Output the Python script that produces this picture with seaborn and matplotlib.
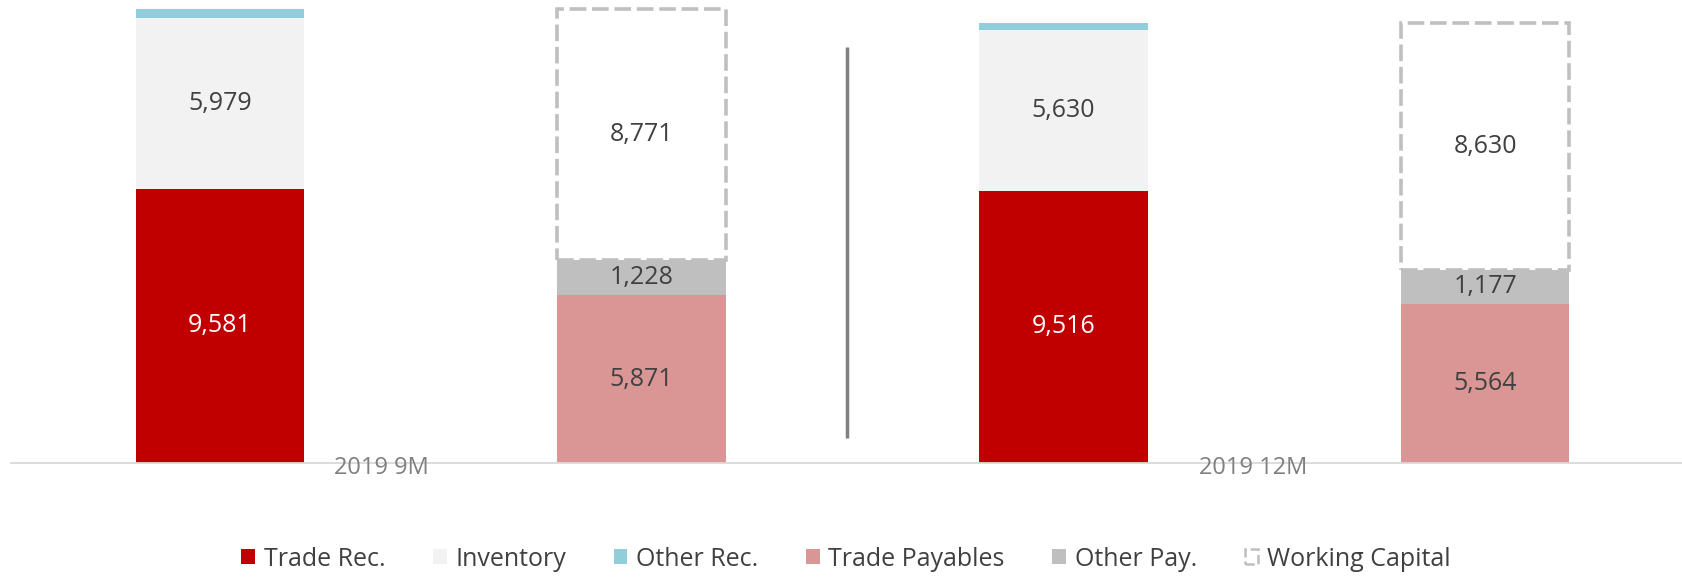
import matplotlib
matplotlib.use("Agg")
import matplotlib.pyplot as plt
from matplotlib.patches import Patch
import seaborn as sns
import pandas as pd

# ---- data ----
periods = ["2019 9M", "2019 12M"]
trade_rec = [9581, 9516]
inventory = [5979, 5630]
other_rec = [310, 225]
trade_pay = [5871, 5564]
other_pay = [1228, 1177]
working_capital = [8771, 8630]

legend_labels = ["Trade Rec.", "Inventory", "Other Rec.", "Trade Payables", "Other Pay.", "Working Capital"]
colors = {"Trade Rec.": "#c00000", "Inventory": "#f2f2f2", "Other Rec.": "#92cddc",
          "Trade Payables": "#d99694", "Other Pay.": "#bfbfbf", "Working Capital": "#bfbfbf"}

sns.set_theme(style="white")
plt.rcParams["font.family"] = ["Open Sans", "DejaVu Sans"]

rec_cats = [p + " rec" for p in periods]
pay_cats = [p + " pay" for p in periods]
order = [rec_cats[0], pay_cats[0], rec_cats[1], pay_cats[1]]

fig = plt.figure(figsize=(16.82, 5.78), dpi=100)
ax = fig.add_axes([11 / 1682, 115 / 578, 1 - 11 / 1682, 463 / 578])

W = 0.4
# receivables stacks (drawn back to front with cumulative heights)
rec_tot = [a + b + c for a, b, c in zip(trade_rec, inventory, other_rec)]
rec_mid = [a + b for a, b in zip(trade_rec, inventory)]
sns.barplot(x=rec_cats, y=rec_tot, order=order, color=colors["Other Rec."], width=W,
            linewidth=0, saturation=1, ax=ax)
sns.barplot(x=rec_cats, y=rec_mid, order=order, color=colors["Inventory"], width=W,
            linewidth=0, saturation=1, ax=ax)
sns.barplot(x=rec_cats, y=trade_rec, order=order, color=colors["Trade Rec."], width=W,
            linewidth=0, saturation=1, ax=ax)
# payables stacks
pay_tot = [a + b for a, b in zip(trade_pay, other_pay)]
sns.barplot(x=pay_cats, y=pay_tot, order=order, color=colors["Other Pay."], width=W,
            linewidth=0, saturation=1, ax=ax)
sns.barplot(x=pay_cats, y=trade_pay, order=order, color=colors["Trade Payables"], width=W,
            linewidth=0, saturation=1, ax=ax)

pay_pos = [order.index(c) for c in pay_cats]
rec_pos = [order.index(c) for c in rec_cats]
ax.bar(pay_pos, working_capital, bottom=pay_tot, width=W, fill=False,
       edgecolor=colors["Working Capital"], linewidth=2.6, linestyle=(0, (4.6, 1.6)),
       joinstyle="miter", zorder=3)

# labels
lab_kw = dict(ha="center", va="center", fontsize=18)
for i, p in enumerate(rec_pos):
    ax.text(p, trade_rec[i] / 2, f"{trade_rec[i]:,}", color="white", **lab_kw)
    ax.text(p, trade_rec[i] + inventory[i] / 2, f"{inventory[i]:,}", color="#404040", **lab_kw)
for i, p in enumerate(pay_pos):
    ax.text(p, trade_pay[i] / 2, f"{trade_pay[i]:,}", color="#404040", **lab_kw)
    ax.text(p, trade_pay[i] + other_pay[i] / 2, f"{other_pay[i]:,}", color="#404040", **lab_kw)
    ax.text(p, pay_tot[i] + working_capital[i] / 2, f"{working_capital[i]:,}", color="#404040", **lab_kw)

# category labels
for x, t in zip([0.382, 2.45], periods):
    ax.text(x, -175, t, ha="center", va="center", fontsize=17, color="#7f7f7f", clip_on=False)

# separator
ax.plot([1.486, 1.486], [874, 14540], color="#808080", lw=2.5, solid_capstyle="butt")

ax.set_xlim(-0.4956, 3.467)
ax.set_ylim(0, 16184)
ax.set_xticks([])
ax.set_yticks([])
ax.set_xlabel("")
ax.set_ylabel("")
for s in ["top", "right", "left"]:
    ax.spines[s].set_visible(False)
ax.spines["bottom"].set_color("#d9d9d9")
ax.spines["bottom"].set_linewidth(1.3)

handles = []
for lab in legend_labels:
    if lab == "Working Capital":
        handles.append(Patch(facecolor="white", edgecolor="#bfbfbf", linestyle="--", linewidth=1.8, label=lab))
    else:
        handles.append(Patch(facecolor=colors[lab], edgecolor="none", label=lab))
fig.legend(handles=handles, loc="center", bbox_to_anchor=(846 / 1682, 1 - 559 / 578), ncol=6,
           frameon=False, fontsize=18, handlelength=0.55, handleheight=0.55,
           handletextpad=0.35, columnspacing=1.9, labelcolor="#404040")

fig.savefig("out.png", dpi=100)
